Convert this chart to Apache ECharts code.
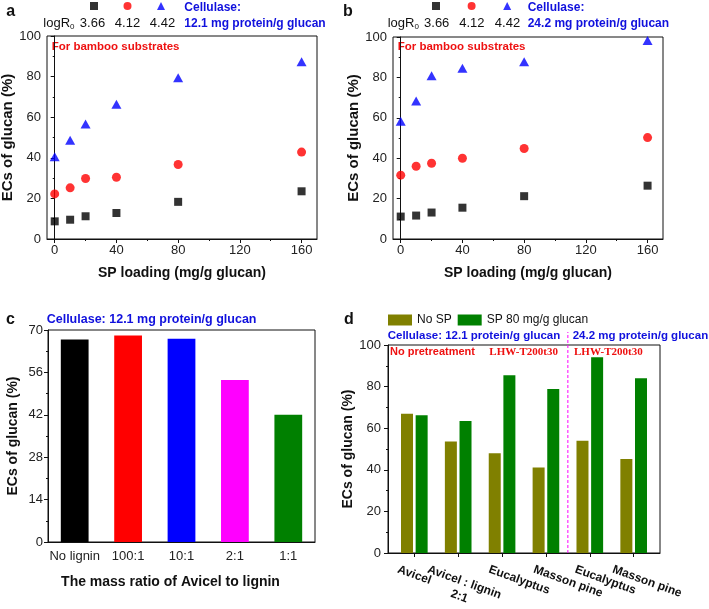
<!DOCTYPE html>
<html><head><meta charset="utf-8">
<script src="https://cdn.jsdelivr.net/npm/echarts@6/dist/echarts.min.js"></script>
<style>html,body{margin:0;padding:0;background:#fff}#c{width:709px;height:609px}</style>
</head><body><div id="c"></div>
<script>
// ---------- data ----------
const spLoading = [0, 10, 20, 40, 80, 160];
const logR0Values = ['3.66', '4.12', '4.42'];
const aLow  = [8.7, 9.5, 11.2, 12.8, 18.3, 23.5];
const aMid  = [22.2, 25.2, 29.8, 30.4, 36.7, 42.8];
const aHigh = [40.5, 48.7, 56.6, 66.4, 79.4, 87.3];
const bLow  = [11.1, 11.6, 13.1, 15.5, 21.2, 26.4];
const bMid  = [31.6, 36.0, 37.5, 40.0, 44.8, 50.2];
const bHigh = [58.3, 68.3, 80.8, 84.5, 87.8, 98.3];
const spTicks = [0, 40, 80, 120, 160];
const spMinorTicks = [20, 60, 100, 140];

const ratioCats = ['No lignin', '100:1', '10:1', '2:1', '1:1'];
const ratioVals = [66.9, 68.2, 67.1, 53.5, 42.0];

const substrates = ['Avicel', 'Avicel : lignin\n2:1', 'Eucalyptus', 'Masson pine', 'Eucalyptus', 'Masson pine'];
const substratePos = [1, 2, 3, 4, 5, 6];
const noSP = [66.9, 53.6, 48.0, 41.1, 54.0, 45.2];
const sp80 = [66.2, 63.5, 85.5, 78.9, 94.1, 84.0];
const dSeriesNames = ['No SP', 'SP 80 mg/g glucan'];
const dividerPos = 4.5;

// ---------- styles ----------
const FONT = '"Liberation Sans", Arial, sans-serif';
const SERIF = '"Liberation Serif", "Times New Roman", serif';
const BLUE = '#1010dd';
const RED = '#ee1111';
const AX = '#111';
const ratioColors = ['#000000', '#ff0000', '#0000ff', '#ff00ff', '#008000'];
const labelAnchors = [0.685, 1.369, 2.766, 3.785, 4.727, 5.586];

function pairs(xs, ys) { return xs.map((x, i) => [x, ys[i]]); }

function spXAxis(gi) {
  return {
    type: 'value', gridIndex: gi, min: -5, max: 170,
    axisLine: { show: true, lineStyle: { color: AX } },
    axisTick: { show: true, customValues: spTicks, length: 4, lineStyle: { color: AX } },
    axisLabel: { customValues: spTicks, fontSize: 13, color: '#222', margin: 5, fontFamily: FONT,
                 showMinLabel: true, showMaxLabel: true },
    splitLine: { show: false },
    name: 'SP loading (mg/g glucan)', nameLocation: 'middle', nameGap: 27,
    nameTextStyle: { fontWeight: 'bold', fontSize: 14, color: '#111', fontFamily: FONT }
  };
}
function spMinorXAxis(gi, h) {
  return {
    type: 'value', gridIndex: gi, position: 'top', offset: -h, min: -5, max: 170,
    axisLine: { show: false },
    axisTick: { show: true, customValues: spMinorTicks, length: 2, inside: true, lineStyle: { color: AX } },
    axisLabel: { show: false }, splitLine: { show: false }
  };
}
function yAxisDef(gi, max, interval, nameGap, nameSize, margin) {
  return {
    type: 'value', gridIndex: gi, min: 0, max: max, interval: interval,
    axisLine: { show: true, lineStyle: { color: AX } },
    axisTick: { show: true, length: 4, lineStyle: { color: AX } },
    minorTick: { show: true, splitNumber: 2, length: 2, lineStyle: { color: AX } },
    axisLabel: { fontSize: 13, color: '#222', margin: margin, fontFamily: FONT, showMinLabel: true, showMaxLabel: true },
    splitLine: { show: false }, minorSplitLine: { show: false },
    name: 'ECs of glucan (%)', nameLocation: 'middle', nameGap: nameGap, nameRotate: 90,
    nameTextStyle: { fontWeight: 'bold', fontSize: nameSize, color: '#111', fontFamily: FONT }
  };
}
function substrateLabel(indices) {
  const vals = indices.map(i => labelAnchors[i]);
  return {
    customValues: vals, rotate: -20, align: 'left', verticalAlign: 'top', margin: 9,
    showMinLabel: true, showMaxLabel: true, hideOverlap: false,
    fontSize: 12, fontWeight: 'bold', color: '#111', fontFamily: FONT,
    formatter: function (v) {
      let idx = 0, best = 1e9;
      labelAnchors.forEach((a, i) => { if (Math.abs(a - v) < best) { best = Math.abs(a - v); idx = i; } });
      const parts = substrates[idx].split('\n');
      if (parts.length > 1) return '{m|' + parts[0] + '}\n{c|' + parts[1] + '}';
      return '{m|' + parts[0] + '}';
    },
    rich: {
      m: { fontSize: 12, fontWeight: 'bold', color: '#111', fontFamily: FONT, lineHeight: 15 },
      c: { fontSize: 12, fontWeight: 'bold', color: '#111', fontFamily: FONT, lineHeight: 15, align: 'center' }
    }
  };
}
function txt(x, y, text, opts) {
  return {
    type: 'text', x: x, y: y, silent: true,
    style: Object.assign({ text: text, fill: '#111', fontSize: 13, fontFamily: FONT,
      align: 'left', verticalAlign: 'middle' }, opts || {})
  };
}
const logRRich = { m: { fontSize: 13, fontFamily: FONT, fill: '#111', lineHeight: 16 },
                   s: { fontSize: 8, fontFamily: FONT, fill: '#111', padding: [7, 0, 0, 0], lineHeight: 16 } };

const grids = [
  { left: 47, top: 36, width: 270, height: 203 },
  { left: 393, top: 37, width: 270, height: 202 },
  { left: 48, top: 330, width: 267, height: 212 },
  { left: 388, top: 345, width: 272, height: 208 },
  { left: 388, top: 332, width: 272, height: 221 }
].map(g => Object.assign({ show: true, borderColor: AX, borderWidth: 1, backgroundColor: 'transparent',
                           containLabel: false, outerBoundsMode: 'none' }, g));
grids[4].show = false;

const option = {
  animation: false,
  backgroundColor: '#fff',
  textStyle: { fontFamily: FONT },
  grid: grids,
  xAxis: [
    spXAxis(0),
    spXAxis(1),
    {
      type: 'category', gridIndex: 2, data: ratioCats,
      axisLine: { show: true, lineStyle: { color: AX } },
      axisTick: { show: false },
      axisLabel: { interval: 0, fontSize: 13, color: '#222', margin: 8, fontFamily: FONT },
      name: 'The mass ratio of Avicel to lignin', nameLocation: 'middle', nameGap: 33,
      nameTextStyle: { fontWeight: 'bold', fontSize: 14, color: '#111', fontFamily: FONT, padding: [0, 22, 0, 0] }
    },
    {
      type: 'value', gridIndex: 3, min: 0.4, max: 6.6,
      axisLine: { show: true, lineStyle: { color: AX } },
      axisTick: { show: true, customValues: substratePos, length: 4, lineStyle: { color: AX } },
      axisLabel: substrateLabel([0, 2, 4]),
      splitLine: { show: false }
    },
    {
      type: 'value', gridIndex: 4, min: 0.4, max: 6.6,
      axisLine: { show: false }, axisTick: { show: false }, splitLine: { show: false },
      axisLabel: substrateLabel([1, 3, 5])
    },
    spMinorXAxis(0, 203),
    spMinorXAxis(1, 202)
  ],
  yAxis: [
    yAxisDef(0, 100, 20, 29, 15, 6),
    yAxisDef(1, 100, 20, 27, 15, 6),
    yAxisDef(2, 70, 14, 28, 14, 5),
    yAxisDef(3, 100, 20, 28, 14, 7),
    { type: 'value', gridIndex: 4, min: 0, max: 1, show: false }
  ],
  legend: [
    {
      left: 90, top: 2, padding: 0, itemWidth: 8, itemHeight: 8, itemGap: 20.5,
      formatter: () => '', textStyle: { fontSize: 8, lineHeight: 8 }, selectedMode: false,
      data: [{ name: 'a1', icon: 'rect' }, { name: 'a2', icon: 'circle' }, { name: 'a3', icon: 'triangle' }]
    },
    {
      left: 432, top: 2, padding: 0, itemWidth: 8, itemHeight: 8, itemGap: 22.6,
      formatter: () => '', textStyle: { fontSize: 8, lineHeight: 8 }, selectedMode: false,
      data: [{ name: 'b1', icon: 'rect' }, { name: 'b2', icon: 'circle' }, { name: 'b3', icon: 'triangle' }]
    },
    {
      left: 388, top: 314, padding: 0, itemWidth: 24, itemHeight: 11, itemGap: 6, selectedMode: false,
      textStyle: { fontSize: 12, color: '#111', fontFamily: FONT },
      data: [{ name: dSeriesNames[0], icon: 'rect' }, { name: dSeriesNames[1], icon: 'rect' }]
    }
  ],
  series: [
    { name: 'a1', type: 'scatter', xAxisIndex: 0, yAxisIndex: 0, symbol: 'rect', symbolSize: 8, itemStyle: { color: '#000' }, data: pairs(spLoading, aLow) },
    { name: 'a2', type: 'scatter', xAxisIndex: 0, yAxisIndex: 0, symbol: 'circle', symbolSize: 9, itemStyle: { color: '#ff0000' }, data: pairs(spLoading, aMid) },
    { name: 'a3', type: 'scatter', xAxisIndex: 0, yAxisIndex: 0, symbol: 'triangle', symbolSize: [10, 9], itemStyle: { color: '#0000ff' }, data: pairs(spLoading, aHigh) },
    { name: 'b1', type: 'scatter', xAxisIndex: 1, yAxisIndex: 1, symbol: 'rect', symbolSize: 8, itemStyle: { color: '#000' }, data: pairs(spLoading, bLow) },
    { name: 'b2', type: 'scatter', xAxisIndex: 1, yAxisIndex: 1, symbol: 'circle', symbolSize: 9, itemStyle: { color: '#ff0000' }, data: pairs(spLoading, bMid) },
    { name: 'b3', type: 'scatter', xAxisIndex: 1, yAxisIndex: 1, symbol: 'triangle', symbolSize: [10, 9], itemStyle: { color: '#0000ff' }, data: pairs(spLoading, bHigh) },
    {
      name: 'ratio', type: 'bar', xAxisIndex: 2, yAxisIndex: 2, barWidth: '52%',
      data: ratioVals.map((v, i) => ({ value: v, itemStyle: { color: ratioColors[i] } }))
    },
    { name: dSeriesNames[0], type: 'bar', xAxisIndex: 3, yAxisIndex: 3, barWidth: 12, barGap: '22%', itemStyle: { color: '#808000' }, data: pairs(substratePos, noSP) },
    { name: dSeriesNames[1], type: 'bar', xAxisIndex: 3, yAxisIndex: 3, barWidth: 12, barGap: '22%', itemStyle: { color: '#008000' }, data: pairs(substratePos, sp80) },
    {
      name: 'divider', type: 'line', xAxisIndex: 4, yAxisIndex: 4, symbol: 'none', silent: true,
      lineStyle: { color: '#ff00ff', width: 1, type: [3, 2] }, data: [[dividerPos, 0], [dividerPos, 1]]
    }
  ],
  graphic: [
    txt(10.8, 12, 'a', { fontSize: 16, fontWeight: 'bold', align: 'center' }),
    txt(348, 12, 'b', { fontSize: 16, fontWeight: 'bold', align: 'center' }),
    txt(10.5, 320, 'c', { fontSize: 16, fontWeight: 'bold', align: 'center' }),
    txt(349, 320, 'd', { fontSize: 16, fontWeight: 'bold', align: 'center' }),
    // panel a header
    txt(184.3, 8, 'Cellulase:', { fontSize: 12, fontWeight: 'bold', fill: BLUE }),
    txt(184.3, 23.3, '12.1 mg protein/g glucan', { fontSize: 12, fontWeight: 'bold', fill: BLUE }),
    txt(43.3, 23.3, '{m|logR}{s|0}', { rich: logRRich }),
    txt(92.5, 23.3, logR0Values[0], { align: 'center' }),
    txt(127.5, 23.3, logR0Values[1], { align: 'center' }),
    txt(162.5, 23.3, logR0Values[2], { align: 'center' }),
    txt(51.7, 47.3, 'For bamboo substrates', { fontSize: 11.5, fontWeight: 'bold', fill: RED }),
    // panel b header
    txt(527.7, 8, 'Cellulase:', { fontSize: 12, fontWeight: 'bold', fill: BLUE }),
    txt(527.7, 23.3, '24.2 mg protein/g glucan', { fontSize: 12, fontWeight: 'bold', fill: BLUE }),
    txt(387.7, 23.3, '{m|logR}{s|0}', { rich: logRRich }),
    txt(436.7, 23.3, logR0Values[0], { align: 'center' }),
    txt(471.8, 23.3, logR0Values[1], { align: 'center' }),
    txt(507.5, 23.3, logR0Values[2], { align: 'center' }),
    txt(397.7, 46.7, 'For bamboo substrates', { fontSize: 11.5, fontWeight: 'bold', fill: RED }),
    // panel c header
    txt(46.7, 319.3, 'Cellulase: 12.1 mg protein/g glucan', { fontSize: 12.5, fontWeight: 'bold', fill: BLUE }),
    // panel d annotations
    txt(387.7, 336, 'Cellulase: 12.1 protein/g glucan', { fontSize: 11.5, fontWeight: 'bold', fill: BLUE }),
    txt(572.7, 336, '24.2 mg protein/g glucan', { fontSize: 11.5, fontWeight: 'bold', fill: BLUE }),
    txt(390, 352, 'No pretreatment', { fontSize: 11, fontWeight: 'bold', fill: RED }),
    txt(489.3, 352.3, 'LHW-T200t30', { fontSize: 11, fontWeight: 'bold', fill: RED, fontFamily: SERIF }),
    txt(574, 352.3, 'LHW-T200t30', { fontSize: 11, fontWeight: 'bold', fill: RED, fontFamily: SERIF })
  ]
};

const chart = echarts.init(document.getElementById('c'), null, { renderer: 'canvas' });
chart.setOption(option);
</script>
</body></html>
